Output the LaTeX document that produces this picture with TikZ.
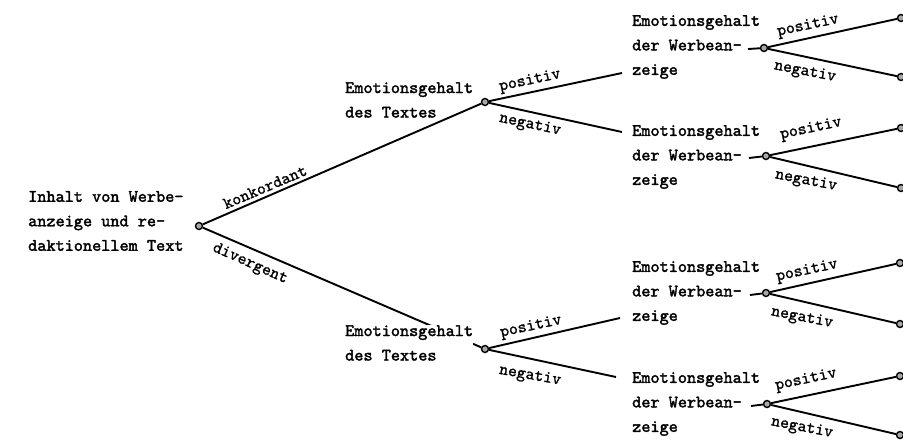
\documentclass[tikz,border=0pt]{standalone}
\usepackage{fontspec}
\newfontfamily\twfont{lmmono10-regular}[Extension=.otf, FakeBold=2]
\newfontfamily\lbfont{lmmono10-regular}[Extension=.otf, FakeBold=1.2]
\usetikzlibrary{backgrounds}
\begin{document}
\begin{tikzpicture}[x=1pt,y=-1pt,
  txt/.style={font=\twfont\fontsize{17.4}{24.5}\selectfont, align=left, inner sep=0pt, anchor=west},
  lbl/.style={font=\lbfont\fontsize{17}{18}\selectfont, inner sep=0pt},
  dot/.style={circle, draw=black, fill=gray!70, line width=1.4pt, minimum size=7pt, inner sep=0pt},
  br/.style={line width=1.9pt}]
\useasboundingbox (0,0) rectangle (903,440);
% root
\node[dot] (r) at (199,226) {};
\node[txt] (rt) at (28,221) {Inhalt von Werbe-\\anzeige und re-\\daktionellem Text};
% level 2
\node[dot] (a) at (485,102) {};
\node[txt] (at) at (345,100) {Emotionsgehalt\\des Textes};
\node[dot] (b) at (485,349) {};
% level 3 dots
\node[dot] (c1) at (764,48) {};
\node[dot] (c2) at (766,156) {};
\node[dot] (c3) at (766,293) {};
\node[dot] (c4) at (767,404) {};
% level 3 texts
\node[txt] (t1) at (632,47) {Emotionsgehalt\\der Werbean-\\zeige};
\node[txt] (t2) at (632,157) {Emotionsgehalt\\der Werbean-\\zeige};
\node[txt] (t3) at (632,293) {Emotionsgehalt\\der Werbean-\\zeige};
\node[txt] (t4) at (632,404) {Emotionsgehalt\\der Werbean-\\zeige};
% end dots
\node[dot] (e11) at (901,18) {};
\node[dot] (e12) at (901,77) {};
\node[dot] (e21) at (901,128) {};
\node[dot] (e22) at (901,188) {};
\node[dot] (e31) at (900,263) {};
\node[dot] (e32) at (900,324) {};
\node[dot] (e41) at (900,376) {};
\node[dot] (e42) at (900,435) {};
% branch ends
\coordinate (a1) at (622,73);
\coordinate (a2) at (622,132);
\coordinate (b1) at (620,318);
\coordinate (b2) at (616,377);
\coordinate (d1) at (748,49);
\coordinate (d2) at (749,158);
\coordinate (d3) at (750,295);
\coordinate (d4) at (751,406);
\begin{scope}[on background layer]
\draw[br] (r) -- (a);
\draw[br] (r) -- (b);
\draw[br] (a) -- (a1);
\draw[br] (a) -- (a2);
\draw[br] (b) -- (b1);
\draw[br] (b) -- (b2);
\draw[br] (d1) -- (c1);
\draw[br] (d2) -- (c2);
\draw[br] (d3) -- (c3);
\draw[br] (d4) -- (c4);
\draw[br] (c1) -- (e11);
\draw[br] (c1) -- (e12);
\draw[br] (c2) -- (e21);
\draw[br] (c2) -- (e22);
\draw[br] (c3) -- (e31);
\draw[br] (c3) -- (e32);
\draw[br] (c4) -- (e41);
\draw[br] (c4) -- (e42);
\end{scope}
\node[txt, fill=white] (bt) at (345,343) {Emotionsgehalt\\des Textes};
% labels
\node[lbl, rotate=23] (lk) at (265,187) {konkordant};
\node[lbl, rotate=-24] (ld) at (250,264) {divergent};
\node[lbl, rotate=12] (lap) at (530,81) {positiv};
\node[lbl, rotate=-12] (lan) at (530,125) {negativ};
\node[lbl, rotate=12] (lbp) at (531,327) {positiv};
\node[lbl, rotate=-10] (lbn) at (530,376) {negativ};
\node[lbl, rotate=12] (l1p) at (808,26) {positiv};
\node[lbl, rotate=-11] (l1n) at (805,72) {negativ};
\node[lbl, rotate=12] (l2p) at (811,129) {positiv};
\node[lbl, rotate=-11] (l2n) at (806,181) {negativ};
\node[lbl, rotate=12] (l3p) at (807,271) {positiv};
\node[lbl, rotate=-11] (l3n) at (802,318) {negativ};
\node[lbl, rotate=12] (l4p) at (806,380) {positiv};
\node[lbl, rotate=-11] (l4n) at (802,428) {negativ};
\end{tikzpicture}
\end{document}
